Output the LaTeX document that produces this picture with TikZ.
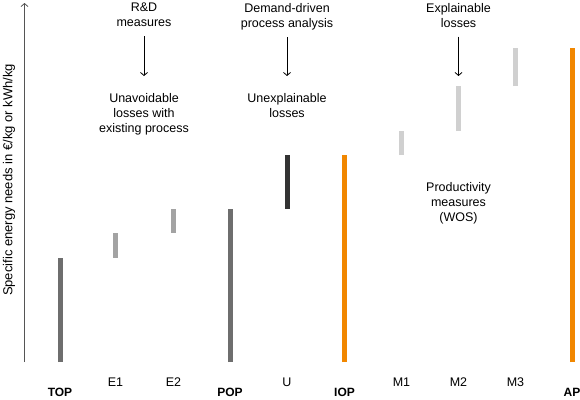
\documentclass[tikz,border=0pt]{standalone}
\usepackage{fontspec}
\setmainfont{Liberation Sans}
\definecolor{barorange}{RGB}{241,135,0}
\definecolor{bardark}{RGB}{110,110,110}
\definecolor{barmid}{RGB}{163,163,163}
\definecolor{barblack}{RGB}{51,51,51}
\definecolor{barlight}{RGB}{208,208,208}
\definecolor{axisgray}{RGB}{85,85,85}
\usetikzlibrary{arrows.meta}

\begin{document}
\begin{tikzpicture}[x=1pt, y=-1pt,
    txt/.style={font=\fontsize{12.5}{15}\selectfont, align=center, inner sep=0pt, anchor=north},
    stagelabel/.style={font=\fontsize{12}{15}\selectfont\bfseries, inner sep=0pt, anchor=north},
    sublabel/.style={font=\fontsize{12.5}{15}\selectfont, inner sep=0pt, anchor=north},
    bar/.style={line width=5pt},
    downarrow/.style={-{Straight Barb[length=3pt,width=7pt]}, line width=0.8pt, shorten <=9pt, shorten >=17pt},
    axis/.style={-{Straight Barb[length=3pt,width=7pt]}, axisgray, line width=0.8pt},
  ]
    \useasboundingbox (0,0) rectangle (580,399);

    % axis
    \coordinate (origin) at (24.5,362);
    \coordinate (ytop) at (24.5,3);
    \draw[axis] (origin) -- (ytop);
    \node[font=\fontsize{13}{15}\selectfont, rotate=90, inner sep=0pt] (ylab) at (9,180)
      {Specific energy needs in €/kg or kWh/kg};

    % bars
    \draw[bar, bardark] (60,362) -- (60,257.5);
    \draw[bar, barmid] (115.5,257.5) -- (115.5,232.5);
    \draw[bar, barmid] (173.5,232.5) -- (173.5,208.5);
    \draw[bar, bardark] (230,362) -- (230,208.5);
    \draw[bar, barblack] (287,208.5) -- (287,155);
    \draw[bar, barorange] (344.5,362) -- (344.5,155);
    \draw[bar, barlight] (401.5,155) -- (401.5,131);
    \draw[bar, barlight] (458.5,131) -- (458.5,86);
    \draw[bar, barlight] (515.5,86) -- (515.5,47.5);
    \draw[bar, barorange] (572,362) -- (572,47.5);

    % labels below
    \node[stagelabel] (top) at (60,388) {TOP};
    \node[sublabel] (e1) at (115.5,378) {E1};
    \node[sublabel] (e2) at (173.5,378) {E2};
    \node[stagelabel] (pop) at (230,388) {POP};
    \node[sublabel] (u) at (287,378) {U};
    \node[stagelabel] (iop) at (344.5,388) {IOP};
    \node[sublabel] (m1) at (401.5,378) {M1};
    \node[sublabel] (m2) at (458.5,378) {M2};
    \node[sublabel] (m3) at (515.5,378) {M3};
    \node[stagelabel] (ap) at (572,388) {AP};

    % measures and losses
    \node[txt] (rd) at (144,3) {R\&D\\measures};
    \node[txt] (unav) at (144,93) {Unavoidable\\losses with\\existing process};
    \node[txt] (demand) at (287,3) {Demand-driven\\process analysis};
    \node[txt] (unexpl) at (287,93) {Unexplainable\\losses};
    \node[txt] (expl) at (458.5,3) {Explainable\\losses};
    \node[txt] (prod) at (458.5,182) {Productivity\\measures\\(WOS)};

    \draw[downarrow] (rd.south) -- (unav.north);
    \draw[downarrow, shorten <=7pt] (demand.south) -- (unexpl.north);
    \draw[downarrow] (expl.south) -- (expl.south |- unav.north);
  \end{tikzpicture}
\end{document}
